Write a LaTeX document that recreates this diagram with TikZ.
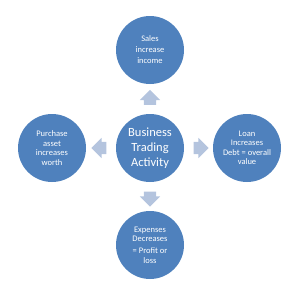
\documentclass[tikz,border=0pt]{standalone}
\usepackage{fontspec}
\setmainfont{Carlito}
\usetikzlibrary{shapes.arrows}
\definecolor{officeblue}{HTML}{4F81BD}
\definecolor{paleblue}{HTML}{B4C4DE}

\begin{document}
\begin{tikzpicture}[x=1pt, y=-1pt,
    act/.style={circle, fill=officeblue, minimum size=68pt, inner sep=0pt, align=center, text=white, font=\fontsize{8.5}{9.5}\selectfont},
    hub/.style={act, font=\fontsize{12.5}{15}\selectfont},
    flow/.style={single arrow, fill=paleblue, inner xsep=0pt, inner ysep=6pt, minimum height=15pt, single arrow head extend=4pt, single arrow head indent=0pt},
]

\useasboundingbox (0,0) rectangle (300,287);

\node[hub] (trading) at (150, 148) {Business\\Trading\\Activity};
\node[act, font=\fontsize{8.5}{11}\selectfont] (sales) at (150, 50) {Sales\\increase\\income};
\node[act] (loan) at (247, 148) {Loan\\Increases\\Debt = overall\\value};
\node[act] (expenses) at (150, 245) {Expenses\\Decreases\\[2.5pt]= Profit or\\loss};
\node[act] (purchase) at (52, 148) {Purchase\\asset\\increases\\worth};

\node[flow, rotate=90] (up) at (150, 100.5) {};
\node[flow] (right) at (198, 148) {};
\node[flow, rotate=-90] (down) at (150, 196) {};
\node[flow, rotate=180] (left) at (102, 148) {};

\end{tikzpicture}
\end{document}
